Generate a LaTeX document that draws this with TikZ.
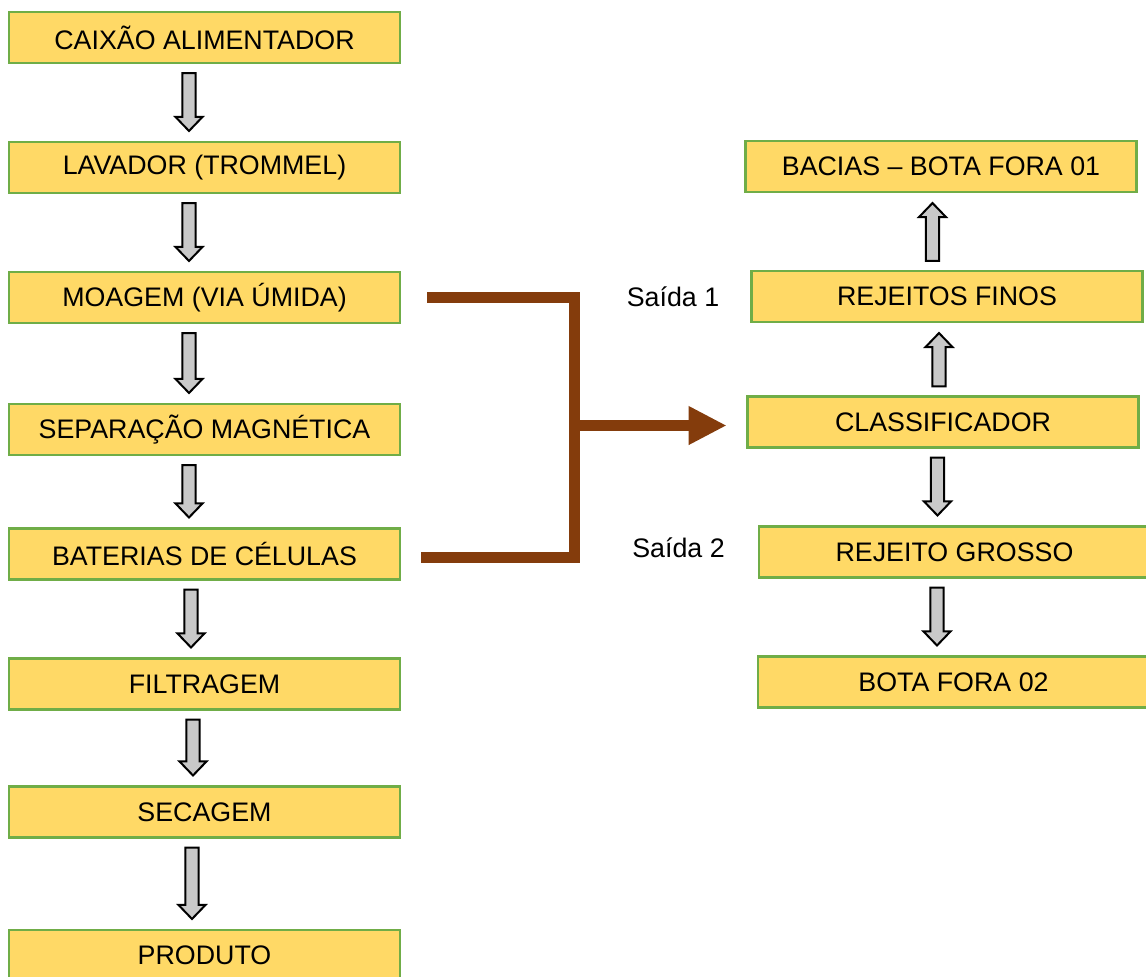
\documentclass[tikz,border=0pt]{standalone}
\usepackage{fontspec}
\setmainfont{Liberation Sans}
\usetikzlibrary{calc,arrows.meta}
\definecolor{boxfill}{HTML}{FFD966}
\definecolor{boxline}{HTML}{70AD47}
\definecolor{arrowgrey}{HTML}{C9C9C9}
\definecolor{trunkbrown}{HTML}{843C0C}

% block arrow: #1 = x position, #2 = from anchor, #3 = to anchor
\newcommand{\flowarrow}[3]{%
  \path[flow] let \p1=(#2), \p2=(#3), \p3=(#1,0), \n1={sign(\y2-\y1)} in
    ({\x3-4.9pt},{\y1+\n1*6.75pt}) -- ({\x3+4.9pt},{\y1+\n1*6.75pt})
    -- ({\x3+4.9pt},{\y2-\n1*18pt}) -- ({\x3+10.1pt},{\y2-\n1*18pt})
    -- ({\x3},{\y2-\n1*7.5pt}) -- ({\x3-10.1pt},{\y2-\n1*18pt})
    -- ({\x3-4.9pt},{\y2-\n1*18pt}) -- cycle;}

\begin{document}
\begin{tikzpicture}[x=0.75pt, y=-0.75pt,
    stage/.style={draw=boxline, fill=boxfill, line width=1.8pt, minimum width=293pt, minimum height=38pt, inner sep=0pt, font=\fontsize{20.1}{24}\selectfont},
    flow/.style={draw=black, fill=arrowgrey, line width=1.5pt},
    trunk/.style={draw=trunkbrown, line width=8.25pt},
    tag/.style={inner sep=0pt, font=\fontsize{20.1}{24}\selectfont}]
  \useasboundingbox (0,0) rectangle (1146,976);

  % main line
  \node[stage] (caixao) at (204.5,37.5) {CAIXÃO ALIMENTADOR};
  \node[stage] (lavador) at (204.5,167.5) {LAVADOR (TROMMEL)};
  \node[stage] (moagem) at (204.5,297.5) {MOAGEM (VIA ÚMIDA)};
  \node[stage] (separacao) at (204.5,429.5) {SEPARAÇÃO MAGNÉTICA};
  \node[stage] (baterias) at (204.5,554) {BATERIAS DE CÉLULAS};
  \node[stage] (filtragem) at (204.5,684) {FILTRAGEM};
  \node[stage] (secagem) at (204.5,812) {SECAGEM};
  \node[stage] (produto) at (204.5,955.5) {PRODUTO};

  % tailings line
  \node[stage] (bacias) at (941,166.5) {BACIAS – BOTA FORA 01};
  \node[stage] (finos) at (947,296.5) {REJEITOS FINOS};
  \node[stage] (classif) at (943,422) {CLASSIFICADOR};
  \node[stage] (grosso) at (954.5,552) {REJEITO GROSSO};
  \node[stage] (botafora) at (953.5,682) {BOTA FORA 02};

  \node[tag] (saida1) at (673,297) {Saída 1};
  \node[tag] (saida2) at (678.5,548) {Saída 2};

  \flowarrow{189}{caixao.south}{lavador.north}
  \flowarrow{189}{lavador.south}{moagem.north}
  \flowarrow{189}{moagem.south}{separacao.north}
  \flowarrow{189}{separacao.south}{baterias.north}
  \flowarrow{191}{baterias.south}{filtragem.north}
  \flowarrow{193}{filtragem.south}{secagem.north}
  \flowarrow{192}{secagem.south}{produto.north}
  \flowarrow{932.5}{finos.north}{bacias.south}
  \flowarrow{939}{classif.north}{finos.south}
  \flowarrow{937.5}{classif.south}{grosso.north}
  \flowarrow{937}{grosso.south}{botafora.north}

  % outputs to classifier
  \coordinate (merge) at (574.5,425.5);
  \draw[trunk] ([xshift=19.5pt]moagem.east) -| (merge) |- ([xshift=15pt,yshift=-2.6pt]baterias.east);
  \draw[trunk, -{Triangle[length=28.5pt, width=27pt]}, shorten >=14.8pt] (merge) -- (merge -| classif.west);
\end{tikzpicture}
\end{document}
